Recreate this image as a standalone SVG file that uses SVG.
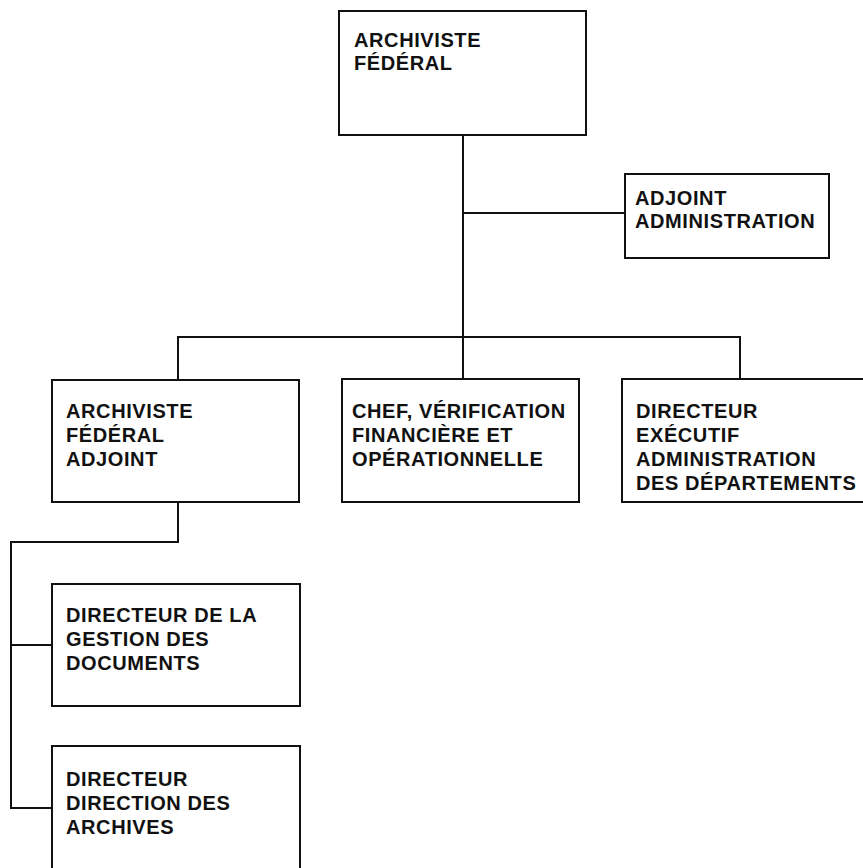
<svg xmlns="http://www.w3.org/2000/svg" width="863" height="868" viewBox="0 0 863 868">
  <style>
    .box { fill: #fff; stroke: #111; stroke-width: 2; }
    .wire { fill: none; stroke: #111; stroke-width: 2; }
    .lbl { font-family: "Liberation Sans", Arial, Helvetica, sans-serif; font-weight: bold; font-size: 20px; letter-spacing: 0.6px; fill: #111; }
  </style>
  <rect width="863" height="868" fill="#fff"/>

  <g id="connectors">
    <path class="wire" d="M463 135 V337"/>
    <path class="wire" d="M463 213 H625"/>
    <path class="wire" d="M178 380 V337 H740 V379"/>
    <path class="wire" d="M463 337 V379"/>
    <path class="wire" d="M178 502 V542 H11 V808 H52"/>
    <path class="wire" d="M11 645 H52"/>
  </g>

  <g id="archiviste-federal">
    <rect class="box" x="339" y="11" width="247" height="124"/>
    <text class="lbl" x="354" y="47">ARCHIVISTE</text>
    <text class="lbl" x="354" y="70">FÉDÉRAL</text>
  </g>

  <g id="adjoint-administration">
    <rect class="box" x="625" y="174" width="204" height="84"/>
    <text class="lbl" x="635" y="205">ADJOINT</text>
    <text class="lbl" x="635" y="228">ADMINISTRATION</text>
  </g>

  <g id="archiviste-federal-adjoint">
    <rect class="box" x="52" y="380" width="247" height="122"/>
    <text class="lbl" x="66" y="418">ARCHIVISTE</text>
    <text class="lbl" x="66" y="442">FÉDÉRAL</text>
    <text class="lbl" x="66" y="466">ADJOINT</text>
  </g>

  <g id="chef-verification">
    <rect class="box" x="342" y="379" width="237" height="123"/>
    <text class="lbl" x="352" y="418">CHEF, VÉRIFICATION</text>
    <text class="lbl" x="352" y="442">FINANCIÈRE ET</text>
    <text class="lbl" x="352" y="466">OPÉRATIONNELLE</text>
  </g>

  <g id="directeur-executif">
    <rect class="box" x="622" y="379" width="260" height="123"/>
    <text class="lbl" x="636" y="418">DIRECTEUR</text>
    <text class="lbl" x="636" y="442">EXÉCUTIF</text>
    <text class="lbl" x="636" y="466">ADMINISTRATION</text>
    <text class="lbl" x="636" y="490">DES DÉPARTEMENTS</text>
  </g>

  <g id="directeur-gestion-documents">
    <rect class="box" x="52" y="584" width="248" height="122"/>
    <text class="lbl" x="66" y="622">DIRECTEUR DE LA</text>
    <text class="lbl" x="66" y="646">GESTION DES</text>
    <text class="lbl" x="66" y="670">DOCUMENTS</text>
  </g>

  <g id="directeur-archives">
    <rect class="box" x="52" y="746" width="248" height="140"/>
    <text class="lbl" x="66" y="786">DIRECTEUR</text>
    <text class="lbl" x="66" y="810">DIRECTION DES</text>
    <text class="lbl" x="66" y="834">ARCHIVES</text>
  </g>
</svg>
